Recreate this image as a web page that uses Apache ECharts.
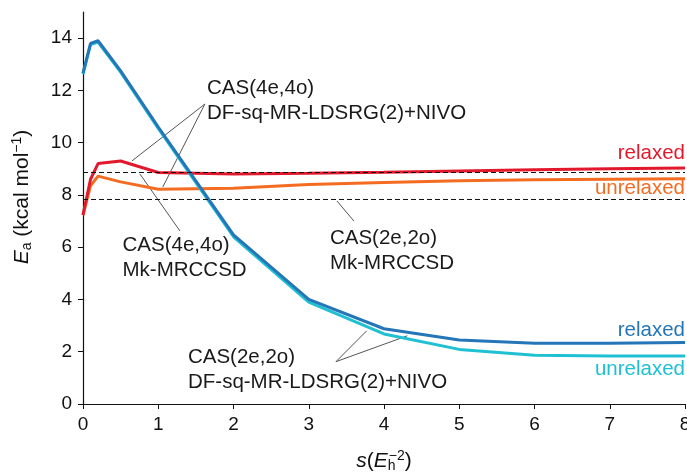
<!DOCTYPE html>
<html><head><meta charset="utf-8">
<script src="https://cdn.jsdelivr.net/npm/echarts@6/dist/echarts.min.js"></script>
<style>html,body{margin:0;padding:0;background:#fff}#c{width:687px;height:474px}</style>
</head><body><div id="c"></div>
<script>
// ---- data ----
const sValues = [0, 0.1, 0.2, 0.5, 1, 2, 3, 4, 5, 6, 7, 8];
const cas22Relaxed   = [12.66, 13.80, 13.90, 12.75, 10.60, 6.47, 4.00, 2.88, 2.45, 2.32, 2.32, 2.35];
const cas22Unrelaxed = [12.62, 13.75, 13.85, 12.70, 10.55, 6.40, 3.90, 2.68, 2.09, 1.87, 1.84, 1.84];
const cas44Relaxed   = [7.23, 8.60, 9.20, 9.30, 8.86, 8.80, 8.83, 8.87, 8.92, 8.96, 9.00, 9.03];
const cas44Unrelaxed = [7.23, 8.35, 8.72, 8.50, 8.22, 8.26, 8.40, 8.48, 8.54, 8.58, 8.60, 8.62];
const mkLevels = [8.85, 7.83];   // CAS(4e,4o) Mk-MRCCSD, CAS(2e,2o) Mk-MRCCSD
const xTicks = [0, 1, 2, 3, 4, 5, 6, 7, 8];
const yTicks = [0, 2, 4, 6, 8, 10, 12, 14];
const annotationTexts = [
  ['CAS(4e,4o)', 'DF-sq-MR-LDSRG(2)+NIVO'],
  ['CAS(4e,4o)', 'Mk-MRCCSD'],
  ['CAS(2e,2o)', 'Mk-MRCCSD'],
  ['CAS(2e,2o)', 'DF-sq-MR-LDSRG(2)+NIVO']
];
const seriesLabels = ['relaxed', 'unrelaxed', 'relaxed', 'unrelaxed'];

// ---- layout (data coordinates for annotations) ----
const FONT = "'Liberation Sans', Arial, Helvetica, sans-serif";
const annotationAnchors = [[1.648, 12.55], [0.525, 6.56], [3.282, 6.83], [1.395, 2.26]];
const leaders = [
  [[1.62, 11.48], [0.65, 9.30]],
  [[1.62, 11.48], [1.06, 8.30]],
  [[0.757, 8.80], [1.289, 6.62]],
  [[3.375, 7.77], [3.60, 7.00]],
  [[3.362, 1.62], [3.77, 2.80]],
  [[3.362, 1.62], [4.31, 2.61]]
];
const labelAnchors = [[8, 9.60], [8, 8.26], [8, 2.83], [8, 1.34]];
const colors = {red: '#e2192d', orange: '#f36c22', blue: '#2476b8', cyan: '#1fc0d2'};
const labelColors = [colors.red, colors.orange, colors.blue, colors.cyan];

function pairs(ys) { return sValues.map((x, i) => [x, ys[i]]); }
function curve(name, ys, color) {
  return {name, type: 'line', data: pairs(ys), symbol: 'none', smooth: false,
    lineStyle: {color, width: 3}, itemStyle: {color}, silent: true, z: 3};
}

const chart = echarts.init(document.getElementById('c'), null, {renderer: 'canvas'});
const series = [];
leaders.forEach((l, i) => series.push({type: 'line', data: l, symbol: 'none', silent: true, z: 2,
  lineStyle: {color: '#555', width: 1}}));
series.push({type: 'line', data: [], silent: true, z: 2,
  markLine: {silent: true, symbol: 'none', label: {show: false},
    lineStyle: {color: '#111', type: [5, 3], width: 1.2},
    data: mkLevels.map(v => ({yAxis: v}))}});
series.push(curve('CAS(4e,4o) unrelaxed', cas44Unrelaxed, colors.orange));
series.push(curve('CAS(4e,4o) relaxed', cas44Relaxed, colors.red));
series.push(curve('CAS(2e,2o) unrelaxed', cas22Unrelaxed, colors.cyan));
series.push(curve('CAS(2e,2o) relaxed', cas22Relaxed, colors.blue));

const NS = 21;
const nameRich = {
  n: {fontSize: NS, lineHeight: 24, fontFamily: FONT, color: '#111', align: 'left'},
  i: {fontStyle: 'italic', fontSize: NS, lineHeight: 24, fontFamily: FONT, color: '#111', align: 'left'},
  sub: {fontSize: 14, lineHeight: 16, verticalAlign: 'bottom', fontFamily: FONT, color: '#111', align: 'left'},
  subz: {fontSize: 14, lineHeight: 16, width: 1, verticalAlign: 'bottom', fontFamily: FONT, color: '#111', align: 'left'},
  sup: {fontSize: 14, lineHeight: 14, verticalAlign: 'top', fontFamily: FONT, color: '#111', align: 'left'}
};

chart.setOption({
  animation: false,
  backgroundColor: '#fff',
  textStyle: {fontFamily: FONT},
  grid: {left: 83, right: 2, top: 12, bottom: 70, containLabel: false, outerBoundsMode: 'none'},
  xAxis: {
    type: 'value', min: 0, max: 8, interval: 1,
    axisLine: {lineStyle: {color: '#111', width: 1.2}},
    axisTick: {show: true, length: 5, lineStyle: {color: '#111'}},
    axisLabel: {fontSize: 19, color: '#111', margin: 11, fontFamily: FONT, customValues: xTicks},
    splitLine: {show: false},
    name: '{i|s}{n|(}{i|E}{subz|h}{sup|−2}{n|)}', nameLocation: 'middle', nameGap: 45,
    nameTextStyle: {fontSize: NS, color: '#111', fontFamily: FONT, lineHeight: 24, rich: nameRich}
  },
  yAxis: {
    type: 'value', min: 0, max: 15,
    axisLine: {show: true, lineStyle: {color: '#111', width: 1.2}},
    axisTick: {show: true, length: 5, lineStyle: {color: '#111'}, customValues: yTicks},
    axisLabel: {fontSize: 19, color: '#111', margin: 11, fontFamily: FONT, customValues: yTicks},
    splitLine: {show: false},
    name: '{i|E}{sub|a}{n| (kcal mol}{sup|−1}{n|)}', nameLocation: 'middle', nameGap: 49, nameRotate: 90,
    nameTextStyle: {fontSize: NS, color: '#111', fontFamily: FONT, lineHeight: 24, rich: nameRich,
      padding: [0, 0, 0, 22]}
  },
  series
});

const graphics = [];
annotationTexts.forEach((lines, i) => {
  const p = chart.convertToPixel({gridIndex: 0}, annotationAnchors[i]);
  graphics.push({type: 'text', x: p[0], y: p[1], silent: true, z: 10,
    style: {text: lines.join('\n'), fill: '#1a1a1a', font: '20.5px ' + FONT,
      lineHeight: 25, align: 'left', verticalAlign: 'top'}});
});
seriesLabels.forEach((t, i) => {
  const p = chart.convertToPixel({gridIndex: 0}, labelAnchors[i]);
  graphics.push({type: 'text', x: p[0], y: p[1], silent: true, z: 10,
    style: {text: t, fill: labelColors[i], font: '20.5px ' + FONT, align: 'right', verticalAlign: 'middle'}});
});
chart.setOption({graphic: graphics});
</script></body></html>
